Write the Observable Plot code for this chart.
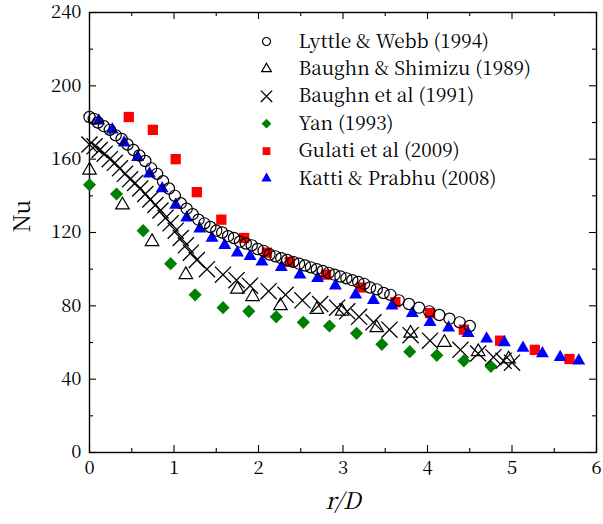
<!DOCTYPE html>
<html><head><meta charset="utf-8">
<script src="https://cdn.jsdelivr.net/npm/d3@7"></script>
<script src="https://cdn.jsdelivr.net/npm/@observablehq/plot@0.6"></script>
<style>
body{margin:0;background:#fff}
#chart{width:603px;height:524px}
</style>
</head><body><div id="chart"></div>
<script>
// Lyttle & Webb (1994) — open circles
const lwX = [0,0.05,0.1,0.17,0.24,0.31,0.38,0.45,0.52,0.59,0.66,0.73,0.8,0.87,0.94,1.01,1.08,1.15,1.22,1.29,1.36,1.43,1.5,1.57,1.64,1.71,1.78,1.85,1.92,1.99,2.06,2.13,2.2,2.27,2.34,2.41,2.48,2.55,2.62,2.69,2.76,2.83,2.9,2.97,3.04,3.11,3.18,3.25,3.32,3.4,3.48,3.56,3.66,3.78,3.9,4.02,4.14,4.26,4.38,4.5];
const lwY = [183,182,180,178,176,173,171,168,165,162,159,155,152,148,144,140,136,133,130,127,125,123,121,120,118,117,115,114,113,111,110,108,107,106,105,104,103,102,101,100,99,98,97,96,95,94,93,92,90,89,87,86,83,81,79,77,75,73,71,69];
// Baughn & Shimizu (1989) — open triangles
const bsX = [0,0.39,0.74,1.14,1.75,1.93,2.26,2.69,2.99,3.4,3.8,4.2,4.6,4.96];
const bsY = [154,135,115,97,89,85,80,78,77,68,65,60,55,51];
// Baughn et al (1991) — crosses
const bX = [0,0.06,0.12,0.18,0.24,0.3,0.36,0.42,0.48,0.54,0.6,0.66,0.72,0.78,0.84,0.9,0.96,1.02,1.08,1.14,1.2,1.27,1.39,1.58,1.74,1.9,2.12,2.32,2.52,2.73,2.93,3.05,3.19,3.36,3.55,3.8,4.03,4.39,4.6,4.78,4.9,5.0];
const bY = [168,167,165,163,160,158,155,152,149,147,144,141,138,135,132,128,125,121,117,113,109,105,100,97,94,91,88,86,83,81,79,77,74,71,67,64,61,56,54,52,50,49];
// Yan (1993) — green diamonds
const yanX = [0,0.32,0.635,0.96,1.25,1.58,1.885,2.21,2.53,2.84,3.16,3.46,3.79,4.11,4.43,4.75];
const yanY = [146,141,121,103,86,79,77,74,71,69,65,59,55,53,50,47];
// Gulati et al (2009) — red squares
const gX = [0.465,0.75,1.02,1.27,1.56,1.83,2.1,2.37,2.8,3.21,3.62,4.03,4.43,4.86,5.27,5.68];
const gY = [183,176,160,142,127,117,109,104,97,90,82,76,67,61,56,51];
// Katti & Prabhu (2008) — blue triangles
const kX = [0.11,0.27,0.41,0.57,0.71,0.86,1.02,1.15,1.305,1.45,1.6,1.75,1.9,2.04,2.27,2.49,2.7,2.91,3.15,3.36,3.58,3.82,4.03,4.25,4.48,4.7,4.91,5.13,5.36,5.57,5.79];
const kY = [181,176,169,161,152,144,135,128,122,117,113,109,107,104,101,97,95,91,86,83,80,76,71,68,65,62,60,57,54,52,50];

const seriesNames = ["Lyttle & Webb (1994)","Baughn & Shimizu (1989)","Baughn et al (1991)","Yan (1993)","Gulati et al (2009)","Katti & Prabhu (2008)"];
const xTicks = [0,1,2,3,4,5,6];
const xMinor = [0.5,1.5,2.5,3.5,4.5,5.5];
const yTicks = [0,40,80,120,160,200,240];
const yMinor = [20,60,100,140,180,220];
const xLabel = "r/D";
const yLabel = "Nu";

const pts = (xs, ys) => xs.map((x, i) => ({x, y: ys[i]}));

const W = 603, H = 524, mL = 89, mR = 7, mT = 12, mB = 72;
const iw = W - mL - mR, ih = H - mT - mB;
const font = "Noto Serif CJK SC";

const styles = [
  {symbol: "circle", fill: "none", stroke: "black", strokeWidth: 1.2, r: 5.6, lr: 4},
  {symbol: "triangle", fill: "none", stroke: "black", strokeWidth: 1.2, r: 5.0, lr: 3.6},
  {symbol: "times", fill: "none", stroke: "black", strokeWidth: 1.3, r: 7.4, lr: 5.2},
  {symbol: "diamond2", fill: "#008000", stroke: "none", strokeWidth: 0, r: 5.9, lr: 4.4},
  {symbol: "square", fill: "#ff0000", stroke: "none", strokeWidth: 0, r: 5.8, lr: 4.4},
  {symbol: "triangle", fill: "#0000ff", stroke: "none", strokeWidth: 0, r: 4.8, lr: 3.8}
];
const data = [pts(lwX, lwY), pts(bsX, bsY), pts(bX, bY), pts(yanX, yanY), pts(gX, gY), pts(kX, kY)];
const drawOrder = [3, 4, 5, 0, 1, 2];

const dataMarks = drawOrder.map(i => Plot.dot(data[i], {
  x: "x", y: "y", symbol: () => styles[i].symbol, r: styles[i].r,
  fill: styles[i].fill, stroke: styles[i].stroke, strokeWidth: styles[i].strokeWidth
}));

const legendRow0 = 29, legendStep = 27.4;
const legendMarks = seriesNames.flatMap((name, i) => [
  Plot.dot([name], {frameAnchor: "top-left", dx: 177, dy: legendRow0 + i * legendStep,
    symbol: () => styles[i].symbol, r: styles[i].lr, fill: styles[i].fill, stroke: styles[i].stroke,
    strokeWidth: styles[i].strokeWidth}),
  Plot.text([name], {frameAnchor: "top-left", lineAnchor: "middle", dx: 209, dy: legendRow0 + i * legendStep,
    text: d => d, textAnchor: "start", fontSize: 19, fill: "black", fontFamily: font})
]);

const chart = Plot.plot({
  width: W, height: H, marginLeft: mL, marginRight: mR, marginTop: mT, marginBottom: mB,
  style: {fontFamily: font, fontSize: "19px", color: "black", background: "white"},
  x: {domain: [0, 6], label: null},
  y: {domain: [0, 240], label: null},
  marks: [
    // inward ticks, all four sides
    Plot.tickX(xTicks, {x: d => d, insetTop: ih - 7, stroke: "black", strokeWidth: 1.1}),
    Plot.tickX(xTicks, {x: d => d, insetBottom: ih - 7, stroke: "black", strokeWidth: 1.1}),
    Plot.tickX(xMinor, {x: d => d, insetTop: ih - 4, stroke: "black", strokeWidth: 1.1}),
    Plot.tickX(xMinor, {x: d => d, insetBottom: ih - 4, stroke: "black", strokeWidth: 1.1}),
    Plot.tickY(yTicks, {y: d => d, insetRight: iw - 7, stroke: "black", strokeWidth: 1.1}),
    Plot.tickY(yTicks, {y: d => d, insetLeft: iw - 7, stroke: "black", strokeWidth: 1.1}),
    Plot.tickY(yMinor, {y: d => d, insetRight: iw - 4, stroke: "black", strokeWidth: 1.1}),
    Plot.tickY(yMinor, {y: d => d, insetLeft: iw - 4, stroke: "black", strokeWidth: 1.1}),
    Plot.axisX(xTicks, {tickSize: 0, tickPadding: 8, fontSize: 18.5, label: null, fontFamily: font}),
    Plot.axisY(yTicks, {tickSize: 0, tickPadding: 8, fontSize: 18.5, label: null, fontFamily: font}),
    Plot.frame({stroke: "black", strokeWidth: 1.4}),
    ...dataMarks,
    ...legendMarks,
    Plot.text([xLabel], {frameAnchor: "bottom", lineAnchor: "middle", dy: 49, text: d => d, fontStyle: "italic", fontSize: 23, fill: "black", fontFamily: font}),
    Plot.text([yLabel], {frameAnchor: "left", lineAnchor: "middle", dx: -67, rotate: -90, text: d => d, fontSize: 23, fill: "black", fontFamily: font})
  ]
});
document.getElementById("chart").appendChild(chart);
// make sure every text uses the serif face
d3.select(chart).selectAll("text, tspan").attr("font-family", font).style("font-family", font);
d3.select(chart).attr("font-family", font).style("font-family", font);
</script>
</body></html>
